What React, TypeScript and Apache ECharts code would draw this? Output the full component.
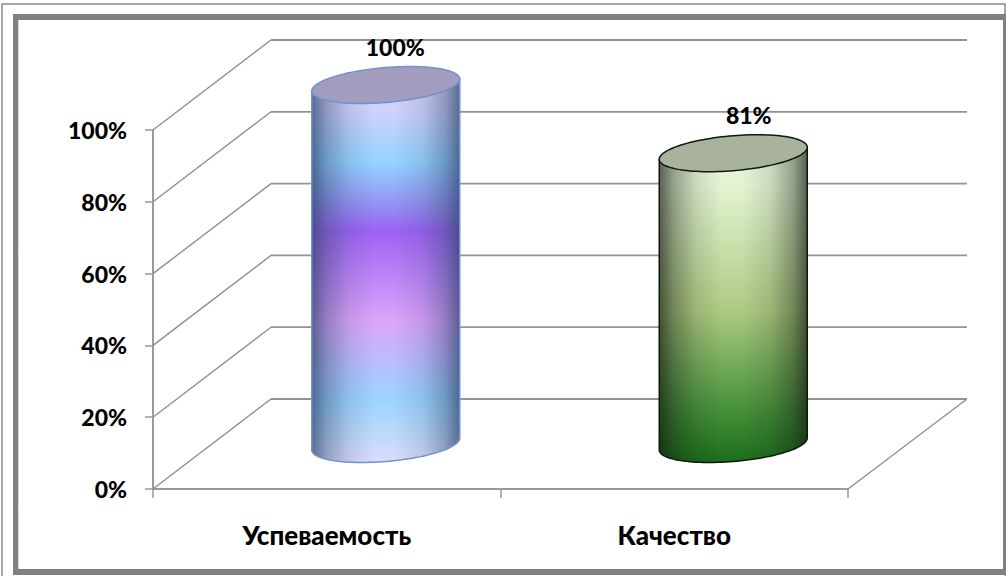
import React, { useEffect, useRef } from "react";
import * as echarts from "echarts";

const categories = ["Успеваемость", "Качество"];
const values = [100, 81];
const yTicks = [0, 20, 40, 60, 80, 100];
const FONT = "Lato, Carlito, 'Open Sans', sans-serif";

// depth of the 3D box in pixels
const DX = 118;
const DY = 90;
const RX = 74;
const RY = 17.5;
const TILT = 6;

const purpleStops = [
  [0, "#d6d4fa"], [0.08, "#d0d2fc"], [0.22, "#93d3ff"], [0.33, "#9490f2"], [0.395, "#9c62f4"],
  [0.63, "#dca4fb"], [0.835, "#9ad4ff"], [1, "#dcdcfa"],
];
const greenStops = [
  [0, "#e6f5d5"], [0.12, "#e4f4d3"], [0.52, "#aeca82"], [0.81, "#4c943f"], [1, "#1c6e1a"],
];
const shadeProfile = [
  [0, 1], [0.1, 0.55], [0.25, 0.18], [0.42, 0], [0.56, 0], [0.75, 0.18], [0.9, 0.55], [1, 1],
];
const styles = [
  { stops: purpleStops, stroke: "#6f93cf", cap: "#a29cbf", edge: [45, 65, 105], alpha: 0.72, nudge: 9.5 },
  { stops: greenStops, stroke: "#0c1a0c", cap: "#a9b39c", edge: [15, 20, 15], alpha: 0.66, nudge: 15.5 },
];

function grad(stops: any[]) {
  return new echarts.graphic.LinearGradient(0, 0, 0, 1, stops.map(([offset, color]) => ({ offset, color })));
}

function ringPoint(cx: number, cy: number, t: number) {
  return [cx + RX * Math.cos(t), cy - TILT * Math.cos(t) + RY * Math.sin(t)];
}

const frameRect = (x: number, y: number, width: number, height: number) => ({
  type: "rect",
  z: 0,
  shape: { x, y, width, height },
  style: { fill: "#808080" },
});

function App() {
  const ref = useRef<HTMLDivElement>(null);
  useEffect(() => {
    const chart = echarts.init(ref.current!, undefined, { renderer: "svg" });
    chart.setOption({
      animation: false,
      backgroundColor: "#fff",
      graphic: [
        { type: "rect", z: 0, shape: { x: 2, y: 4, width: 1003, height: 574 }, style: { fill: "none", stroke: "#8a8a8a", lineWidth: 1.5 } },
        frameRect(13, 14, 993, 6),
        frameRect(13, 569, 993, 6),
        frameRect(13, 14, 5.3, 561),
        frameRect(1003, 14, 3, 561),
      ],
      grid: { left: 153, top: 130, width: 695, height: 359 },
      xAxis: {
        type: "category",
        data: categories,
        axisLine: { lineStyle: { color: "#9a9a9a", width: 2 } },
        axisTick: { show: true, length: 9, lineStyle: { color: "#9a9a9a", width: 1.5 } },
        axisLabel: { color: "#000", fontFamily: FONT, fontWeight: 900, fontSize: 26, margin: 33 },
      },
      yAxis: {
        type: "value",
        min: 0,
        max: 100,
        interval: 20,
        axisLine: { show: true, lineStyle: { color: "#9a9a9a", width: 2 } },
        axisTick: { show: true, length: 8, lineStyle: { color: "#9a9a9a", width: 1.5 } },
        splitLine: { show: false },
        axisLabel: { color: "#000", fontFamily: FONT, fontWeight: 900, fontSize: 23, margin: 26, formatter: "{value}%" },
      },
      series: [
        {
          type: "custom",
          z: 2,
          silent: true,
          data: yTicks.map((v) => [0, v]),
          encode: { x: 0, y: 1 },
          renderItem: (params: any, api: any) => {
            const cs = params.coordSys;
            const y = api.coord([0, api.value(1)])[1];
            const children: any[] = [
              {
                type: "polyline",
                shape: { points: [[cs.x, y], [cs.x + DX, y - DY]] },
                style: { fill: "none", stroke: "#8f8f8f", lineWidth: 1.4 },
              },
              {
                type: "line",
                shape: { x1: cs.x + DX, y1: y - DY, x2: cs.x + cs.width + DX + 1, y2: y - DY },
                style: { stroke: "#939393", lineWidth: 1.8 },
              },
            ];
            if (api.value(1) === 0) {
              children.push({
                type: "line",
                shape: { x1: cs.x + cs.width, y1: y, x2: cs.x + cs.width + DX + 1, y2: y - DY },
                style: { stroke: "#8f8f8f", lineWidth: 1.4 },
              });
            }
            return { type: "group", children };
          },
        },
        {
          type: "custom",
          z: 3,
          silent: true,
          data: values.map((v, i) => [i, v]),
          encode: { x: 0, y: 1 },
          renderItem: (params: any, api: any) => {
            const i = api.value(0);
            const st = styles[params.dataIndex];
            const top = api.coord([i, api.value(1)]);
            const base = api.coord([i, 0]);
            const cx = top[0] + DX / 2;
            const cyTop = top[1] - DY / 2;
            const cyBase = base[1] - DY / 2;
            const body: number[][] = [ringPoint(cx, cyTop, 0), ringPoint(cx, cyTop, Math.PI)];
            for (let k = 0; k <= 60; k++) {
              body.push(ringPoint(cx, cyBase, Math.PI - (k / 60) * Math.PI));
            }
            const cap: number[][] = [];
            for (let k = 0; k < 120; k++) cap.push(ringPoint(cx, cyTop, (k / 120) * Math.PI * 2));
            const shade = new echarts.graphic.LinearGradient(
              0, 0, 1, 0,
              shadeProfile.map(([offset, a]) => ({
                offset,
                color: `rgba(${st.edge.join(",")},${a * st.alpha})`,
              }))
            );
            return {
              type: "group",
              children: [
                { type: "polygon", shape: { points: body }, style: { fill: grad(st.stops), stroke: "none" } },
                { type: "polygon", shape: { points: body }, style: { fill: shade, stroke: st.stroke, lineWidth: 1.5 } },
                { type: "polygon", shape: { points: cap }, style: { fill: st.cap, stroke: st.stroke, lineWidth: 1.5 } },
                {
                  type: "text",
                  x: cx + st.nudge,
                  y: cyTop - 38,
                  style: {
                    text: api.value(1) + "%",
                    fill: "#000",
                    font: `900 23px ${FONT}`,
                    align: "center",
                    verticalAlign: "middle",
                  },
                },
              ],
            };
          },
        },
      ],
    });
    return () => chart.dispose();
  }, []);
  return <div ref={ref} style={{ position: "absolute", left: 0, top: 0, width: 1006, height: 576 }} />;
}

export default App;
